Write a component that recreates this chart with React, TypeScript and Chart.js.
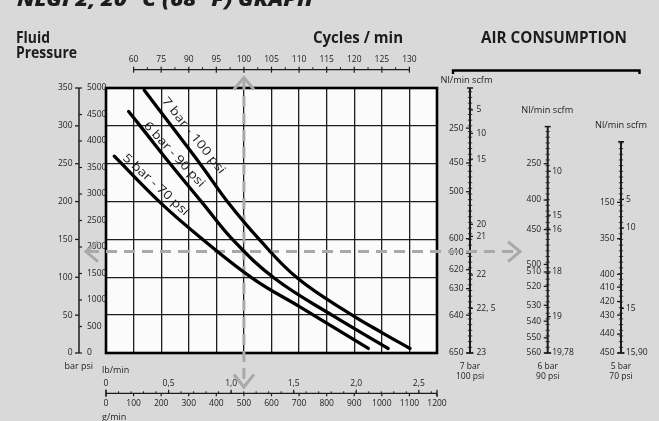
import { useEffect, useRef } from 'react';
import { Chart, registerables } from 'chart.js';

Chart.register(...registerables);

// ---------------- data ----------------
// main grid: fluid flow (g/min) vs fluid pressure (bar)
const flowTicks = [0, 100, 200, 300, 400, 500, 600, 700, 800, 900, 1000, 1100, 1200];
const lbTickValues = [0, 0.5, 1.0, 1.5, 2.0, 2.5];
const lbTickLabels = ['0', '0,5', '1,0', '1,5', '2,0', '2,5'];
const cycleLabels = ['60', '75', '90', '95', '100', '105', '110', '115', '120', '125', '130'];
const cycleFlow = [100, 200, 300, 400, 500, 600, 700, 800, 900, 1000, 1100];
const barTicks = [0, 50, 100, 150, 200, 250, 300, 350];
const psiTicks = [0, 500, 1000, 1500, 2000, 2500, 3000, 3500, 4000, 4500, 5000];

const flow7 = [139, 239, 345, 442, 558, 697, 897, 1000, 1102];
const bar7 = [347, 299, 248, 199, 149, 98, 49, 27, 6];
const flow6 = [82, 126, 237, 348, 461, 613, 824, 1023];
const bar6 = [319, 299, 248, 199, 149, 98, 49, 6];
const flow5 = [30, 199, 341, 534, 703, 951];
const bar5 = [260, 198, 153, 98, 61, 6];

const curveNames = ['7 bar - 100 psi', '6 bar - 90 psi', '5 bar - 70 psi'];

// reading example (arrows)
const refFlow = 500;
const refPressure = 134;

// air consumption scales, read against fluid pressure (bar)
const air7Top = 350;
const air7NlLabels = ['250', '450', '500', '600', '610', '620', '630', '640', '650'];
const air7NlAt = [297, 251, 213, 151, 132, 110, 85, 50, 0];
const air7ScfmLabels = ['5', '10', '15', '20', '21', '22', '22, 5', '23'];
const air7ScfmAt = [321, 290, 256, 170, 154, 103, 59, 0];

const air6Top = 299;
const air6NlLabels = ['250', '400', '450', '500', '510', '520', '530', '540', '550', '560'];
const air6NlAt = [250, 202, 163, 117, 107, 88, 63, 42, 20, 0];
const air6ScfmLabels = ['10', '15', '16', '18', '19', '19,78'];
const air6ScfmAt = [240, 182, 163, 107, 48, 0];

const air5Top = 279;
const air5NlLabels = ['150', '350', '400', '410', '420', '430', '440', '450'];
const air5NlAt = [199, 151, 104, 87, 68, 50, 25, 0];
const air5ScfmLabels = ['5', '10', '15', '15,90'];
const air5ScfmAt = [203, 165, 59, 0];

// ---------------- drawing helpers ----------------
const FAMILY = '"Open Sans", "Noto Sans", "DejaVu Sans", sans-serif';
const INK = '#1c1c1c';
const GREY = '#a9a9a9';
const BAR_MAX = 350;
const PSI_MAX = 5000;
const G_PER_LB = 453.592;

const fnt = (size: number, weight = '400', style = 'normal') => `${style} ${weight} ${size}px ${FAMILY}`;

function txt(ctx: CanvasRenderingContext2D, s: string, x: number, y: number, size = 8.5, align: CanvasTextAlign = 'left', weight = '400') {
  ctx.font = fnt(size, weight);
  ctx.fillStyle = INK;
  ctx.textAlign = align;
  ctx.textBaseline = 'middle';
  ctx.fillText(s, x, y);
}

function fitTxt(ctx: CanvasRenderingContext2D, s: string, x: number, y: number, width: number, font: string, align: 'left' | 'center' = 'left', baseline: CanvasTextBaseline = 'alphabetic') {
  ctx.save();
  ctx.font = font;
  ctx.fillStyle = INK;
  const w = ctx.measureText(s).width;
  ctx.translate(align === 'center' ? x - width / 2 : x, y);
  ctx.scale(width / w, 1);
  ctx.textAlign = 'left';
  ctx.textBaseline = baseline;
  ctx.fillText(s, 0, 0);
  ctx.restore();
}

function seg(ctx: CanvasRenderingContext2D, x1: number, y1: number, x2: number, y2: number, w = 1.2, color = INK) {
  ctx.beginPath();
  ctx.moveTo(x1, y1);
  ctx.lineTo(x2, y2);
  ctx.lineWidth = w;
  ctx.strokeStyle = color;
  ctx.stroke();
}

function chevron(ctx: CanvasRenderingContext2D, pts: number[][]) {
  ctx.save();
  ctx.setLineDash([]);
  ctx.beginPath();
  ctx.moveTo(pts[0][0], pts[0][1]);
  ctx.lineTo(pts[1][0], pts[1][1]);
  ctx.lineTo(pts[2][0], pts[2][1]);
  ctx.lineWidth = 3;
  ctx.strokeStyle = GREY;
  ctx.lineJoin = 'miter';
  ctx.stroke();
  ctx.restore();
}

const columns = [
  { x: 470, top: air7Top, nl: air7NlLabels, nlAt: air7NlAt, scfm: air7ScfmLabels, scfmAt: air7ScfmAt, headDx: -3.5, headGap: 7.5, foot: ['7 bar', '100 psi'], rightGap: 6.5 },
  { x: 547.7, top: air6Top, nl: air6NlLabels, nlAt: air6NlAt, scfm: air6ScfmLabels, scfmAt: air6ScfmAt, headDx: -0.5, headGap: 16.5, foot: ['6 bar', '90 psi'], rightGap: 4.5 },
  { x: 621, top: air5Top, nl: air5NlLabels, nlAt: air5NlAt, scfm: air5ScfmLabels, scfmAt: air5ScfmAt, headDx: 0, headGap: 16.5, foot: ['5 bar', '70 psi'], rightGap: 5 },
];

const curveLabelStyle = [
  { flow: 317, bar: 287, angle: 51.5, width: 94 },
  { flow: 247, bar: 262, angle: 47.4, width: 84 },
  { flow: 180, bar: 222, angle: 42.6, width: 85 },
];

const nomogram = {
  id: 'nomogram',
  beforeDraw(chart: any) {
    const { ctx, chartArea: a } = chart;
    ctx.save();
    ctx.fillStyle = '#d9d9d9';
    ctx.fillRect(0, 0, chart.width, chart.height);
    ctx.fillStyle = '#fbfbfb';
    ctx.fillRect(a.left, a.top, a.right - a.left, a.bottom - a.top);
    ctx.restore();
  },
  beforeDatasetsDraw(chart: any) {
    const { ctx, chartArea: a } = chart;
    const xs = chart.scales.x;
    const ys = chart.scales.y;
    const px = (g: number) => xs.getPixelForValue(g);
    const py = (b: number) => ys.getPixelForValue(b);
    ctx.save();
    ctx.lineCap = 'butt';

    // frame
    ctx.lineWidth = 2.6;
    ctx.strokeStyle = '#000';
    ctx.strokeRect(a.left, a.top, a.right - a.left, a.bottom - a.top);

    // headings
    fitTxt(ctx, 'NLGI 2, 20 °C (68 °F) GRAPH', 17, 6, 296, fnt(20, '800', 'italic'));
    fitTxt(ctx, 'Fluid', 16, 42.7, 34, fnt(16, '700'));
    fitTxt(ctx, 'Pressure', 16, 58.3, 61, fnt(16, '700'));
    fitTxt(ctx, 'Cycles / min', 313, 42.7, 90, fnt(16, '700'));
    fitTxt(ctx, 'AIR CONSUMPTION', 481, 42.7, 146, fnt(16, '700'));

    // bracket over air consumption
    ctx.beginPath();
    ctx.moveTo(453, 74);
    ctx.lineTo(453, 70.5);
    ctx.lineTo(639.5, 70.5);
    ctx.lineTo(639.5, 74);
    ctx.lineWidth = 2.4;
    ctx.strokeStyle = '#000';
    ctx.stroke();

    // left axis: bar + psi
    const axX = 79;
    seg(ctx, axX, py(BAR_MAX), axX, py(0), 1.5);
    barTicks.forEach((v) => {
      const y = py(v);
      seg(ctx, axX - 4, y, axX, y, 1.3);
      txt(ctx, String(v), axX - 6.5, y, 8.5, 'right');
    });
    psiTicks.forEach((v) => {
      const y = py((v / PSI_MAX) * BAR_MAX);
      seg(ctx, axX, y, axX + 3, y, 1.2);
      txt(ctx, String(v), axX + 8, y, 8.5, 'left');
    });
    txt(ctx, 'bar psi', 64.5, 366.5, 9);

    // top axis: cycles / min
    const cyY = 69.7;
    seg(ctx, px(cycleFlow[0]), cyY, px(cycleFlow[cycleFlow.length - 1]), cyY, 1.3);
    cycleFlow.forEach((g, i) => {
      const x = px(g);
      seg(ctx, x, cyY - 3, x, cyY + 3, 1.2);
      txt(ctx, cycleLabels[i], x, 60, 8.5, 'center');
      if (i < cycleFlow.length - 1) {
        const xm = px((g + cycleFlow[i + 1]) / 2);
        seg(ctx, xm, cyY - 2.5, xm, cyY, 1);
      }
    });

    // bottom axes: lb/min and g/min
    const bY = 393.3;
    txt(ctx, 'lb/min', 102, 370.5, 9);
    txt(ctx, 'g/min', 102, 417.5, 9);
    seg(ctx, px(0), bY, px(1200), bY, 1.3);
    seg(ctx, px(0), bY - 3.5, px(0), bY + 3.5, 1.3);
    seg(ctx, px(1200), bY - 3.5, px(1200), bY + 3.5, 1.3);
    flowTicks.forEach((g) => {
      const x = px(g);
      seg(ctx, x, bY, x, bY + 3, 1.2);
      txt(ctx, String(g), x, 403.3, 8.5, 'center');
    });
    for (let lb = 0.1; lb < 1200 / G_PER_LB; lb += 0.1) {
      const x = px(lb * G_PER_LB);
      seg(ctx, x, bY - 2, x, bY, 1);
    }
    lbTickValues.forEach((v, i) => {
      const x = px(v * G_PER_LB);
      seg(ctx, x, bY - 3.5, x, bY, 1.2);
      txt(ctx, lbTickLabels[i], x, 383.5, 8.5, 'center');
    });

    // air consumption columns
    columns.forEach((c) => {
      const yTop = py(c.top);
      const yBot = py(0);
      seg(ctx, c.x, yTop, c.x, yBot, 2);
      seg(ctx, c.x - 3, yTop, c.x + 3, yTop, 1.5);
      seg(ctx, c.x - 3.5, yBot, c.x + 3.5, yBot, 1.5);
      for (let b = 7.5; b < c.top; b += 7.5) {
        const y = py(b);
        seg(ctx, c.x - 2.2, y, c.x + 2.2, y, 0.8);
      }
      c.nl.forEach((s, i) => {
        const y = py(c.nlAt[i]);
        seg(ctx, c.x - 4, y, c.x, y, 1.3);
        txt(ctx, s, c.x - 6.5, y, 8.5, 'right');
      });
      c.scfm.forEach((s, i) => {
        const y = py(c.scfmAt[i]);
        seg(ctx, c.x, y, c.x + 3, y, 1.3);
        txt(ctx, s, c.x + c.rightGap, y, 8.5, 'left');
      });
      fitTxt(ctx, 'Nl/min scfm', c.x + c.headDx, yTop - c.headGap, 52, fnt(8.5), 'center', 'middle');
      txt(ctx, c.foot[0], c.x, 366.7, 8.5, 'center');
      txt(ctx, c.foot[1], c.x, 377, 8.5, 'center');
    });

    // reading example: dashed grey arrows
    const hy = py(refPressure);
    const vx = px(refFlow);
    ctx.setLineDash([11, 7]);
    seg(ctx, 88, hy, 517, hy, 3, GREY);
    ctx.setLineDash([11, 6]);
    seg(ctx, vx, 79, vx, 385, 3, GREY);
    ctx.setLineDash([]);
    chevron(ctx, [[98, hy - 10], [86, hy], [98, hy + 10]]);
    chevron(ctx, [[508, hy - 10], [520, hy], [508, hy + 10]]);
    chevron(ctx, [[vx - 10, 89.5], [vx, 77.5], [vx + 10, 89.5]]);
    chevron(ctx, [[vx - 10, 374.5], [vx, 387], [vx + 10, 374.5]]);

    ctx.restore();
  },
  afterDatasetsDraw(chart: any) {
    const { ctx } = chart;
    const xs = chart.scales.x;
    const ys = chart.scales.y;
    curveNames.forEach((name, i) => {
      const st = curveLabelStyle[i];
      const x = xs.getPixelForValue(st.flow);
      const y = ys.getPixelForValue(st.bar);
      ctx.save();
      ctx.font = fnt(12);
      const w = ctx.measureText(name).width;
      ctx.translate(x, y);
      ctx.rotate((st.angle * Math.PI) / 180);
      ctx.scale(st.width / w, 1);
      ctx.fillStyle = INK;
      ctx.textAlign = 'center';
      ctx.textBaseline = 'middle';
      ctx.fillText(name, 0, 0);
      ctx.restore();
    });
  },
};

function curve(flow: number[], bar: number[], label: string) {
  return {
    label,
    data: flow.map((g, i) => ({ x: g, y: bar[i] })),
    borderColor: '#000',
    borderWidth: 3.3,
    pointRadius: 0,
    fill: false,
    tension: 0.4,
    borderCapStyle: 'round' as const,
    borderJoinStyle: 'round' as const,
  };
}

export default function App() {
  const ref = useRef<HTMLCanvasElement | null>(null);
  useEffect(() => {
    if (!ref.current) return;
    const gridStyle = { color: '#1e1e1e', lineWidth: 1.3, drawTicks: false };
    const chart = new Chart(ref.current, {
      type: 'line',
      data: {
        datasets: [
          curve(flow7, bar7, curveNames[0]),
          curve(flow6, bar6, curveNames[1]),
          curve(flow5, bar5, curveNames[2]),
        ],
      },
      options: {
        animation: false,
        responsive: false,
        devicePixelRatio: 1,
        events: [],
        layout: { padding: { left: 106, top: 88, right: 222, bottom: 68 } },
        plugins: { legend: { display: false }, tooltip: { enabled: false } },
        scales: {
          x: {
            type: 'linear',
            min: 0,
            max: 1200,
            ticks: { stepSize: 100, display: false },
            grid: gridStyle,
            border: { display: false },
            afterFit: (s: any) => { s.height = 0; },
          },
          y: {
            type: 'linear',
            min: 0,
            max: BAR_MAX,
            ticks: { stepSize: 50, display: false },
            grid: gridStyle,
            border: { display: false },
            afterFit: (s: any) => { s.width = 0; },
          },
        },
      } as any,
      plugins: [nomogram],
    });
    return () => chart.destroy();
  }, []);
  return (
    <div style={{ position: 'fixed', left: 0, top: 0, width: 659, height: 421, background: '#d9d9d9' }}>
      <canvas ref={ref} width={659} height={421} style={{ display: 'block', width: 659, height: 421 }} />
    </div>
  );
}
